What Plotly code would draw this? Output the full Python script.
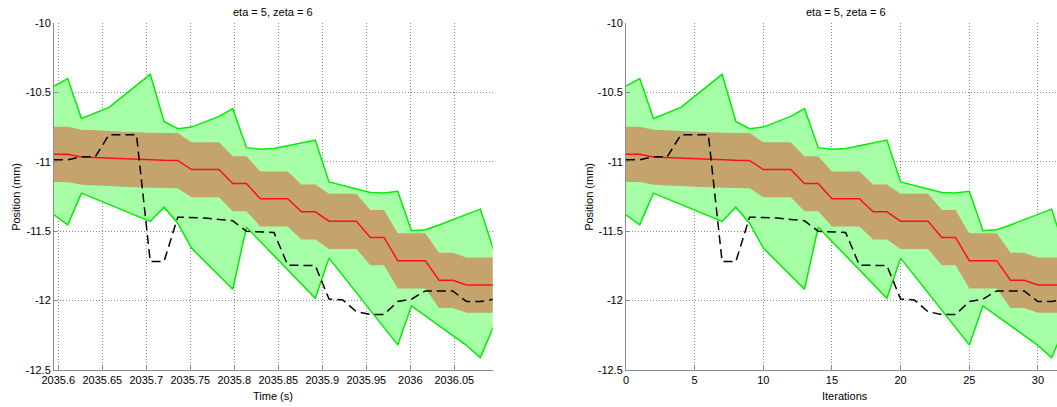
import plotly.graph_objects as go

# ---- data ----
times = [2035.5951, 2035.6107, 2035.6263, 2035.6420, 2035.6576, 2035.6732, 2035.6888,
         2035.7045, 2035.7201, 2035.7357, 2035.7513, 2035.7670, 2035.7826, 2035.7982,
         2035.8138, 2035.8295, 2035.8451, 2035.8607, 2035.8763, 2035.8920, 2035.9076,
         2035.9232, 2035.9388, 2035.9545, 2035.9701, 2035.9857, 2036.0013, 2036.0170,
         2036.0326, 2036.0482, 2036.0638, 2036.0795, 2036.0951]
iterations = list(range(33))

green_upper = [-10.454, -10.400, -10.688, -10.648, -10.608, -10.529, -10.449, -10.370,
               -10.709, -10.762, -10.750, -10.712, -10.673, -10.616, -10.898, -10.910,
               -10.904, -10.884, -10.864, -10.843, -11.145, -11.170, -11.196, -11.221,
               -11.224, -11.212, -11.497, -11.490, -11.455, -11.418, -11.380, -11.341,
               -11.645]
green_lower = [-11.382, -11.454, -11.226, -11.267, -11.308, -11.349, -11.390, -11.430,
               -11.327, -11.442, -11.622, -11.719, -11.817, -11.918, -11.471, -11.573,
               -11.675, -11.778, -11.880, -11.983, -11.694, -11.819, -11.944, -12.069,
               -12.194, -12.319, -12.038, -12.110, -12.180, -12.252, -12.322, -12.411,
               -12.180]
brown_upper = [-10.748, -10.748, -10.769, -10.773, -10.778, -10.783, -10.787, -10.790,
               -10.792, -10.793, -10.859, -10.859, -10.859, -10.960, -10.960, -11.069,
               -11.069, -11.069, -11.163, -11.163, -11.231, -11.231, -11.231, -11.348,
               -11.348, -11.515, -11.515, -11.515, -11.656, -11.656, -11.690, -11.690,
               -11.690]
brown_lower = [-11.145, -11.145, -11.166, -11.170, -11.175, -11.180, -11.184, -11.187,
               -11.189, -11.190, -11.256, -11.256, -11.256, -11.357, -11.357, -11.466,
               -11.466, -11.466, -11.560, -11.560, -11.628, -11.628, -11.628, -11.745,
               -11.745, -11.912, -11.912, -11.912, -12.053, -12.053, -12.087, -12.087,
               -12.087]
estimate = [-10.945, -10.945, -10.966, -10.970, -10.975, -10.980, -10.984, -10.987,
            -10.989, -10.990, -11.056, -11.056, -11.056, -11.157, -11.157, -11.266,
            -11.266, -11.266, -11.360, -11.360, -11.428, -11.428, -11.428, -11.545,
            -11.545, -11.712, -11.712, -11.712, -11.853, -11.853, -11.887, -11.887,
            -11.887]
truth = [-10.986, -10.986, -10.964, -10.964, -10.805, -10.805, -10.805, -11.719,
         -11.719, -11.399, -11.400, -11.405, -11.415, -11.425, -11.500, -11.507,
         -11.510, -11.745, -11.745, -11.748, -11.988, -11.995, -12.080, -12.100,
         -12.100, -12.007, -11.990, -11.930, -11.930, -11.930, -12.007, -12.007,
         -11.990]

x_time_ticks = [2035.6, 2035.65, 2035.7, 2035.75, 2035.8, 2035.85, 2035.9, 2035.95, 2036, 2036.05]
x_time_labels = ["2035.6", "2035.65", "2035.7", "2035.75", "2035.8", "2035.85",
                 "2035.9", "2035.95", "2036", "2036.05"]
x_iter_ticks = [0, 5, 10, 15, 20, 25, 30]
y_ticks = [-10, -10.5, -11, -11.5, -12, -12.5]
y_labels = ["-10", "-10.5", "-11", "-11.5", "-12", "-12.5"]
title_text = "eta = 5, zeta = 6"

# ---- style ----
FONT = "Liberation Sans, Arial, sans-serif"
GREEN_LINE = "#00ee00"
GREEN_FILL = "#a6ffa6"
BROWN_FILL = "#c4a46c"
RED = "#ff1010"

W, H = 1057, 407
fig = go.Figure()

panels = [
    (times, "x", "y"),
    (iterations, "x2", "y2"),
]
for xs, xa, ya in panels:
    fig.add_trace(go.Scatter(x=list(xs) + list(xs)[::-1], y=green_upper + green_lower[::-1],
                             fill="toself", fillcolor=GREEN_FILL, mode="none",
                             xaxis=xa, yaxis=ya, hoverinfo="skip"))
    fig.add_trace(go.Scatter(x=list(xs) + list(xs)[::-1], y=brown_upper + brown_lower[::-1],
                             fill="toself", fillcolor=BROWN_FILL, mode="none",
                             xaxis=xa, yaxis=ya, hoverinfo="skip"))
    for arr in (green_upper, green_lower):
        fig.add_trace(go.Scatter(x=xs, y=arr, mode="lines",
                                 line=dict(color=GREEN_LINE, width=1.5),
                                 xaxis=xa, yaxis=ya))
    fig.add_trace(go.Scatter(x=xs, y=estimate, mode="lines",
                             line=dict(color=RED, width=1.5), xaxis=xa, yaxis=ya))
    fig.add_trace(go.Scatter(x=xs, y=truth, mode="lines",
                             line=dict(color="black", width=1.5, dash="9px,5px"),
                             xaxis=xa, yaxis=ya))

# pixel geometry of the reference
L, R, T, B = 54.0, 1057.0, 23.3, 370.0
PW = R - L
x1dom = [0.0, (492.7 - L) / PW]
x2dom = [(626.0 - L) / PW, 1.0]

axis_common = dict(showline=True, linecolor="#8c8c8c", linewidth=1,
                   ticks="inside", ticklen=4, tickcolor="#8c8c8c",
                   showgrid=True, gridcolor="#8a8a8a", gridwidth=1, griddash="1px,2px",
                   zeroline=False, tickfont=dict(family=FONT, size=11, color="black"),
                   mirror=False, automargin=False)

fig.update_layout(
    width=W, height=H, autosize=False,
    margin=dict(l=L, r=W - R, t=T, b=H - B, pad=0, autoexpand=False),
    paper_bgcolor="white", plot_bgcolor="white",
    showlegend=False,
    xaxis=dict(domain=x1dom, range=[2035.5951, 2036.0936], tickvals=x_time_ticks,
               ticktext=x_time_labels, anchor="y", **axis_common),
    yaxis=dict(domain=[0, 1], range=[-12.5, -10], tickvals=y_ticks, ticktext=y_labels,
               anchor="x", **axis_common),
    xaxis2=dict(domain=x2dom, range=[0, 31.39], tickvals=x_iter_ticks,
                ticktext=[str(v) for v in x_iter_ticks], anchor="y2", **axis_common),
    yaxis2=dict(domain=[0, 1], range=[-12.5, -10], tickvals=y_ticks, ticktext=y_labels,
                anchor="x2", **axis_common),
)

def ann(text, xpx, ypx, angle=0):
    fig.add_annotation(text=text, x=xpx / W, y=1 - ypx / H, xref="paper", yref="paper",
                       showarrow=False, textangle=angle, xanchor="center", yanchor="middle",
                       font=dict(family=FONT, size=11, color="black"))

# annotations use paper coords relative to the plot area; convert from pixels
def ann_px(text, xpx, ypx, angle=0):
    fig.add_annotation(text=text, x=(xpx - L) / PW, y=(B - ypx) / (B - T),
                       xref="paper", yref="paper", showarrow=False, textangle=angle,
                       xanchor="center", yanchor="middle",
                       font=dict(family=FONT, size=11, color="black"))

ann_px(title_text, 273, 12)
ann_px(title_text, 846, 12)
ann_px("Time (s)", 273, 396)
ann_px("Iterations", 845, 396)
ann_px("Position (mm)", 16, 197, -90)
ann_px("Position (mm)", 589, 197, -90)

fig.write_html("out.html")
